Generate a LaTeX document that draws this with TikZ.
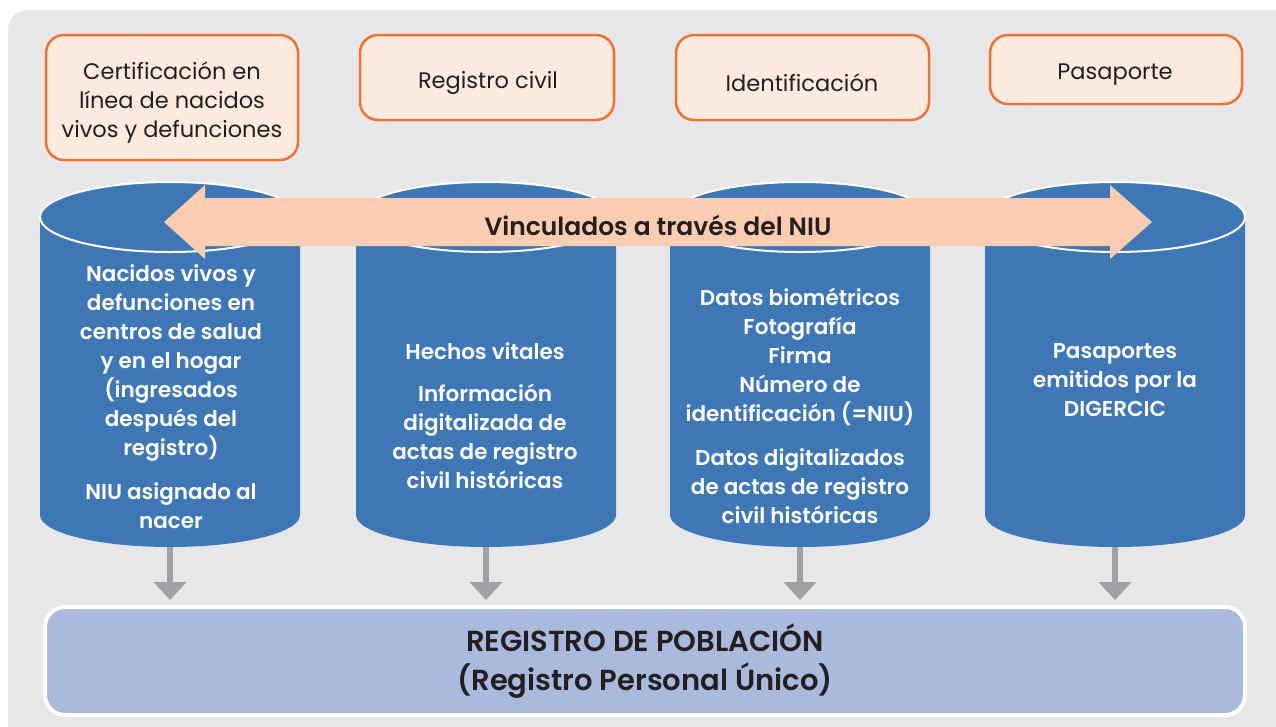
\documentclass[tikz,border=0pt]{standalone}
\usepackage{fontspec}
\setmainfont{Poppins}[BoldFont={Poppins SemiBold}]
\usetikzlibrary{arrows.meta}
\definecolor{bg}{HTML}{E6E7E9}
\definecolor{obord}{HTML}{F07230}
\definecolor{ofill}{HTML}{FDEBDF}
\definecolor{cblue}{HTML}{3E77B5}
\definecolor{peach}{HTML}{FBCDB0}
\definecolor{agray}{HTML}{A0A1A4}
\definecolor{pfill}{HTML}{AABADC}
\definecolor{tdark}{HTML}{231F20}
\begin{document}
\begin{tikzpicture}[x=1pt,y=-1pt,
  topbox/.style={draw=obord, line width=2.5pt, fill=ofill, rounded corners=18pt, inner sep=0pt},
  toptext/.style={text=tdark, align=center, inner sep=0pt, font=\fontsize{22.5}{29}\selectfont},
  cyltext/.style={align=center, text=white, inner sep=0pt, font=\bfseries\fontsize{21.5}{29}\selectfont},
  darr/.style={draw=agray, line width=6pt, -{Triangle[width=32pt,length=18pt]}, shorten >=0pt},
]
\useasboundingbox (0,0) rectangle (1276,726);
\clip (0,0) rectangle (1276,726);
\fill[bg, rounded corners=20pt] (8,10) rectangle (1320,780);

% top boxes
\node[topbox, minimum width=252pt, minimum height=125pt] (t1) at (172,97.5) {};
\node[toptext] (t1t) at (172,102.5) {Certificación en\\línea de nacidos\\vivos y defunciones};
\node[topbox, minimum width=254pt, minimum height=85pt] (t2) at (487,77.5) {};
\node[toptext] (t2t) at (488,83) {Registro civil};
\node[topbox, minimum width=253pt, minimum height=85pt] (t3) at (802.5,77.5) {};
\node[toptext] (t3t) at (802,83) {Identificación};
\node[topbox, minimum width=252pt, minimum height=69pt] (t4) at (1116,69.5) {};
\node[toptext] (t4t) at (1115,75) {Pasaporte};

% cylinders
\foreach \x/\n in {40/1,356/2,670/3,985/4}{
  \fill[cblue] (\x,217) -- (\x,515) arc[start angle=180,end angle=0,x radius=130,y radius=32] -- (\x+260,217) -- cycle;
  \draw[white, line width=2pt, fill=cblue] (\x+130,217) ellipse[x radius=130, y radius=35];
  \coordinate (b\n) at (\x+130,547);
}
\coordinate (tipline) at (0,600);

% double arrow
\fill[peach] (164,222) -- (205,185) -- (205,198) -- (1110,198) -- (1110,185) -- (1152,222)
  -- (1110,259) -- (1110,246) -- (205,246) -- (205,259) -- cycle;
\node[text=tdark, font=\bfseries\fontsize{25}{26}\selectfont, inner sep=0pt] (link) at (658,225) {Vinculados a través del NIU};

% cylinder texts
\node[cyltext] (c1) at (171,397) {Nacidos vivos y\\defunciones en\\centros de salud\\y en el hogar\\(ingresados\\después del\\registro)\\[15pt]NIU asignado al\\nacer};
\node[cyltext] (c2) at (485,415.5) {Hechos vitales\\[13pt]Información\\digitalizada de\\actas de registro\\civil históricas};
\node[cyltext] (c3) at (800,406) {Datos biométricos\\Fotografía\\Firma\\Número de\\identificación (=NIU)\\[15pt]Datos digitalizados\\de actas de registro\\civil históricas};
\node[cyltext] (c4) at (1115,380) {Pasaportes\\emitidos por la\\DIGERCIC};

% bottom register
\node[draw=white, line width=4pt, fill=pfill, rounded corners=20pt, minimum width=1200pt, minimum height=108pt,
  align=center, text=tdark, font=\bfseries\fontsize{29}{39}\selectfont] (reg) at (645,661)
  {REGISTRO DE POBLACIÓN\\(Registro Personal Único)};

% down arrows
\foreach \n in {1,...,4}{
  \draw[darr] (b\n) -- (b\n |- tipline);
}
\end{tikzpicture}
\end{document}
